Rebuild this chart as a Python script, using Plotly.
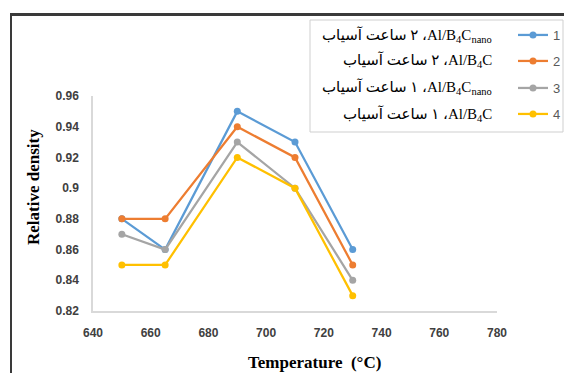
import plotly.graph_objects as go

temperature = [650, 665, 690, 710, 730]
series_names = ["1", "2", "3", "4"]
series_1 = [0.88, 0.86, 0.95, 0.93, 0.86]
series_2 = [0.88, 0.88, 0.94, 0.92, 0.85]
series_3 = [0.87, 0.86, 0.93, 0.90, 0.84]
series_4 = [0.85, 0.85, 0.92, 0.90, 0.83]
RLE, PDF = "\u202B", "\u202C"
series_labels = [
    RLE + "۲ ساعت آسیاب" + PDF + " ،Al/B<sub>4</sub>C<sub>nano</sub>",
    RLE + "۲ ساعت آسیاب" + PDF + " ،Al/B<sub>4</sub>C",
    RLE + "۱ ساعت آسیاب" + PDF + " ،Al/B<sub>4</sub>C<sub>nano</sub>",
    RLE + "۱ ساعت آسیاب" + PDF + " ،Al/B<sub>4</sub>C",
]
x_ticks = [640, 660, 680, 700, 720, 740, 760, 780]
y_ticks = [0.82, 0.84, 0.86, 0.88, 0.90, 0.92, 0.94, 0.96]
y_tick_labels = ["0.82", "0.84", "0.86", "0.88", "0.9", "0.92", "0.94", "0.96"]

colors = ["#5B9BD5", "#ED7D31", "#A5A5A5", "#FFC000"]
all_series = [series_1, series_2, series_3, series_4]

W, H = 564, 373
L, R, T, B = 93, 67, 96, 62
pw, ph = W - L - R, H - T - B


def px(xp):
    return (xp - L) / pw


def py(yp):
    return (H - B - yp) / ph


row_y = [35, 61, 88, 114]
legend_keys = ["legend", "legend2", "legend3", "legend4"]

fig = go.Figure()
for i, (name, vals) in enumerate(zip(series_names, all_series)):
    fig.add_trace(go.Scatter(
        x=temperature, y=vals, name=name, mode="lines+markers",
        line=dict(color=colors[i], width=2.25),
        marker=dict(color=colors[i], size=7),
        legend=legend_keys[i],
    ))

layout_legends = {}
for i, key in enumerate(legend_keys):
    layout_legends[key] = dict(
        x=px(513), y=py(row_y[i]), xanchor="left", yanchor="middle",
        bgcolor="rgba(0,0,0,0)", borderwidth=0,
        font=dict(family="Liberation Sans, Arial", size=13, color="#595959"),
        itemwidth=30,
    )

fig.update_layout(
    width=W, height=H,
    margin=dict(l=L, r=R, t=T, b=B, autoexpand=False),
    paper_bgcolor="white", plot_bgcolor="white",
    showlegend=True,
    **layout_legends,
    xaxis=dict(
        range=[640, 780], tickvals=x_ticks, showgrid=False, zeroline=False,
        showline=True, linecolor="#D9D9D9", linewidth=1.5,
        ticks="", ticklabelstandoff=10,
        tickfont=dict(family="Liberation Sans, Arial", size=12, color="#404040", weight="bold"),
    ),
    yaxis=dict(
        range=[0.82, 0.96], tickvals=y_ticks, ticktext=y_tick_labels,
        showgrid=False, zeroline=False,
        showline=True, linecolor="#D9D9D9", linewidth=1.5,
        ticks="", ticklabelstandoff=10,
        tickfont=dict(family="Liberation Sans, Arial", size=12, color="#404040", weight="bold"),
    ),
)

# outer frame (top and left edges) drawn as thin filled bars, plus legend box
fig.add_shape(type="rect", xref="paper", yref="paper",
              x0=px(10), x1=px(564), y0=py(16), y1=py(13),
              line=dict(width=0), fillcolor="#3A3A3A", layer="above")
fig.add_shape(type="rect", xref="paper", yref="paper",
              x0=px(10), x1=px(12), y0=py(373), y1=py(13),
              line=dict(width=0), fillcolor="#3A3A3A", layer="above")
fig.add_shape(type="rect", xref="paper", yref="paper",
              x0=px(310), x1=px(563), y0=py(132), y1=py(20),
              line=dict(color="#CFCFCF", width=1), fillcolor="white", layer="above")

for i, lab in enumerate(series_labels):
    fig.add_annotation(
        text=lab, xref="paper", yref="paper", x=px(494), y=py(row_y[i]),
        xanchor="right", yanchor="middle", showarrow=False,
        font=dict(family="Liberation Serif, DejaVu Serif, DejaVu Sans", size=15, color="#000000"),
    )

fig.add_annotation(
    text="<b>Temperature\u00a0\u00a0(°C)</b>", xref="paper", yref="paper",
    x=px(314), y=py(362), xanchor="center", yanchor="middle", showarrow=False,
    font=dict(family="Liberation Serif, Times New Roman", size=17, color="#000000"),
)
fig.add_annotation(
    text="<b>Relative density</b>", xref="paper", yref="paper",
    x=px(33), y=py(187), xanchor="center", yanchor="middle", showarrow=False,
    textangle=-90,
    font=dict(family="Liberation Serif, Times New Roman", size=17, color="#000000"),
)

fig.write_html(
    "out.html",
    config={"displayModeBar": False},
    post_script="document.body.style.margin='0';document.body.style.overflow='hidden';",
)
